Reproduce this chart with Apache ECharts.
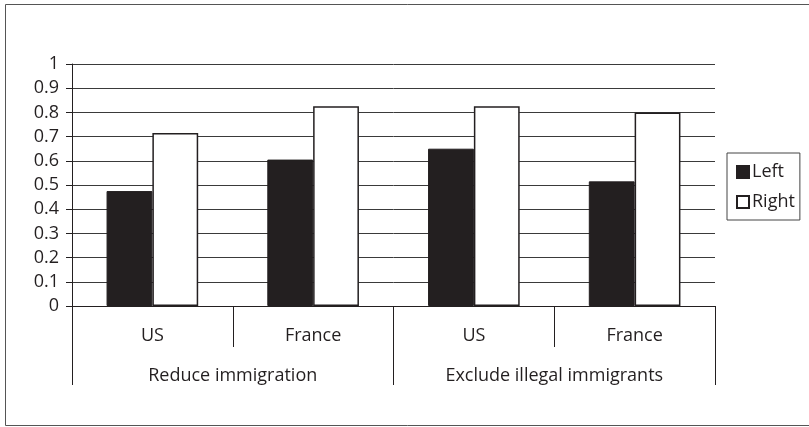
<!DOCTYPE html>
<html>
<head>
<meta charset="utf-8">
<script src="https://cdn.jsdelivr.net/npm/echarts@6/dist/echarts.min.js"></script>
<style>html,body{margin:0;padding:0;background:#fff}#c{width:809px;height:427px}</style>
</head>
<body>
<div id="c"></div>
<script>
const categories = ['US', 'France', 'US', 'France'];
const groups = ['Reduce immigration', 'Exclude illegal immigrants'];
const leftValues = [0.475, 0.605, 0.65, 0.515];
const rightValues = [0.715, 0.825, 0.825, 0.80];
const seriesNames = ['Left', 'Right'];

const ink = '#231f20';
const font = '"Open Sans", sans-serif';
const chart = echarts.init(document.getElementById('c'), null, {renderer: 'canvas'});
chart.setOption({
  animation: false,
  backgroundColor: '#fff',
  textStyle: {fontFamily: font, color: ink},
  graphic: [{
    type: 'rect', shape: {x: 5.5, y: 4.5, width: 810, height: 421},
    style: {fill: 'none', stroke: '#555', lineWidth: 1}, silent: true, z: -1
  }],
  grid: {left: 72, right: 94, top: 64, bottom: 121, containLabel: false},
  legend: {
    orient: 'vertical', left: 727, top: 153,
    padding: [9, 5, 8, 9], itemGap: 10, itemWidth: 12, itemHeight: 12,
    borderColor: '#444', borderWidth: 1,
    icon: 'rect',
    textStyle: {fontFamily: font, fontSize: 18, color: ink, lineHeight: 20, padding: [0, 0, 0, -2]},
    data: seriesNames
  },
  xAxis: [{
    type: 'category', data: categories, position: 'bottom',
    axisLine: {show: true, lineStyle: {color: ink, width: 1}},
    axisTick: {show: true, length: 41, lineStyle: {color: ink, width: 1}},
    axisLabel: {margin: 21, fontSize: 18, color: ink, fontFamily: font}
  }, {
    type: 'category', data: groups, position: 'bottom',
    axisLine: {show: false},
    axisTick: {show: true, length: 79, lineStyle: {color: ink, width: 1}},
    axisLabel: {margin: 61, fontSize: 18, color: ink, fontFamily: font}
  }],
  yAxis: {
    type: 'value', min: 0, max: 1, interval: 0.1,
    axisLine: {show: true, lineStyle: {color: ink, width: 1}},
    axisTick: {show: true, length: 6, lineStyle: {color: ink}},
    splitLine: {show: true, lineStyle: {color: '#3a3a3a', width: 1}},
    axisLabel: {margin: 13, fontSize: 18, color: ink, fontFamily: font,
      formatter: v => String(+v.toFixed(1))}
  },
  series: [{
    name: seriesNames[0], type: 'bar', xAxisIndex: 0, data: leftValues,
    barGap: '0%', barCategoryGap: '43%',
    itemStyle: {color: ink, borderColor: ink, borderWidth: 1}
  }, {
    name: seriesNames[1], type: 'bar', xAxisIndex: 0, data: rightValues,
    barGap: '0%', barCategoryGap: '43%',
    itemStyle: {color: '#fff', borderColor: ink, borderWidth: 1.5}
  }]
});
</script>
</body>
</html>
